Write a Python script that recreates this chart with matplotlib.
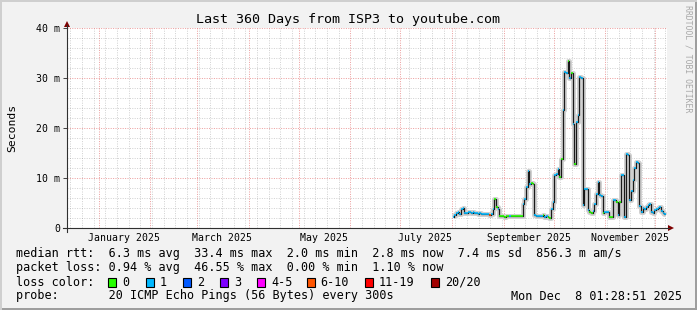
import matplotlib
matplotlib.use("Agg")
import matplotlib.pyplot as plt
import matplotlib.dates as mdates
import pandas as pd
from matplotlib.patches import Rectangle, Polygon
from matplotlib.lines import Line2D
from matplotlib.transforms import blended_transform_factory

# ---------------- data ----------------
title = "Last 360 Days from ISP3 to youtube.com"
range_start = "2024-12-13 01:28:51"
range_end = "2025-12-08 01:28:51"
first_sample = "2025-08-02"

# daily median RTT in milliseconds
median_ms = [
    2.3, 2.7, 3.1, 3.2, 2.9, 3.9, 4.0, 3.1, 3.0, 3.3,
    3.2, 3.0, 3.3, 3.1, 3.0, 2.9, 3.0, 2.8, 2.9, 2.8,
    2.8, 2.8, 2.7, 2.8, 3.9, 5.9, 4.3, 3.8, 2.4, 2.4,
    2.4, 2.3, 2.4, 2.4, 2.5, 2.4, 2.4, 2.5, 2.4, 2.5,
    2.4, 2.4, 4.9, 5.9, 8.3, 11.4, 8.9, 9.0, 8.9, 2.6,
    2.5, 2.5, 2.4, 2.5, 2.6, 2.3, 2.4, 2.2, 2.1, 3.9,
    5.2, 10.6, 10.9, 11.9, 10.3, 13.9, 23.6, 31.3, 31.1, 33.4,
    30.0, 31.0, 20.9, 12.9, 21.3, 22.6, 30.3, 30.1, 4.6, 7.9,
    7.9, 3.6, 3.3, 3.0, 3.5, 4.9, 6.9, 9.3, 6.6, 6.5,
    3.1, 3.2, 3.3, 3.2, 2.2, 2.3, 5.7, 5.7, 5.3, 2.6,
    5.3, 10.6, 10.6, 2.3, 14.9, 14.6, 5.6, 7.5, 9.6, 12.0,
    13.3, 13.1, 4.5, 3.3, 4.0, 3.9, 4.3, 4.7, 4.9, 3.3,
    3.0, 3.6, 3.9, 4.0, 4.3, 3.5, 3.1, 2.8,
]
# loss class index per day (index into loss_labels)
loss_class = [
    1, 1, 1, 1, 1, 1, 1, 1, 1, 1,
    1, 1, 1, 1, 1, 1, 1, 1, 1, 1,
    1, 1, 5, 1, 1, 0, 0, 1, 0, 0,
    0, 0, 0, 0, 1, 0, 0, 0, 0, 0,
    0, 0, 1, 1, 1, 1, 1, 0, 0, 1,
    1, 1, 1, 1, 0, 1, 1, 0, 0, 1,
    1, 1, 1, 1, 0, 0, 1, 1, 1, 0,
    1, 0, 1, 0, 1, 1, 1, 1, 1, 1,
    1, 1, 0, 0, 1, 1, 1, 1, 1, 1,
    0, 1, 1, 1, 0, 0, 1, 1, 0, 1,
    0, 1, 1, 1, 1, 1, 1, 1, 1, 1,
    1, 1, 1, 1, 1, 1, 1, 1, 1, 1,
    1, 1, 1, 1, 1, 1, 1, 1,
]
loss_labels = ["0", "1", "2", "3", "4-5", "6-10", "11-19", "20/20"]
loss_colors = ["#26ff00", "#00b8ff", "#0059ff", "#7e00ff", "#ff00ff",
               "#ff5500", "#ff0000", "#a10000"]

month_label_dates = ["2025-01-16", "2025-03-16", "2025-05-16",
                     "2025-07-16", "2025-09-16", "2025-11-16"]
month_labels = ["January 2025", "March 2025", "May 2025",
                "July 2025", "September 2025", "November 2025"]
y_ticks = [0, 10, 20, 30, 40]
y_ticklabels = ["0", "10 m", "20 m", "30 m", "40 m"]

stats_line1 = "median rtt:  6.3 ms avg  33.4 ms max  2.0 ms min  2.8 ms now  7.4 ms sd  856.3 m am/s"
stats_line2 = "packet loss: 0.94 % avg  46.55 % max  0.00 % min  1.10 % now"
probe_line = "probe:       20 ICMP Echo Pings (56 Bytes) every 300s"
timestamp = "Mon Dec  8 01:28:51 2025"

# ---------------- figure ----------------
W, H = 697, 310
MONO = "DejaVu Sans Mono"
fig = plt.figure(figsize=(W / 100, H / 100), dpi=100)
fig.patch.set_facecolor("#f2f2f2")


def fx(x):
    return x / W


def fy(y):
    return 1 - y / H


ax = fig.add_axes([fx(67), fy(228), 600 / W, 200 / H])
ax.set_facecolor("white")

dates = pd.date_range(first_sample, periods=len(median_ms), freq="D")
half = pd.Timedelta(hours=12)

# smoke-like halo, median line and loss-coloured segments
ax.plot(dates, median_ms, drawstyle="steps-mid", color="#d0d0d0", lw=3.6,
        solid_capstyle="butt", zorder=2)
ax.plot(dates, median_ms, drawstyle="steps-mid", color="#1a1a1a", lw=0.9,
        zorder=3)
ax.hlines(median_ms, dates - half, dates + half,
          colors=[loss_colors[c] for c in loss_class], lw=1.2, zorder=4)

ax.set_xlim(pd.Timestamp(range_start), pd.Timestamp(range_end))
ax.set_ylim(0, 40)

ax.xaxis.set_major_locator(mdates.MonthLocator())
ax.xaxis.set_minor_locator(mdates.WeekdayLocator(byweekday=mdates.SU))
ax.xaxis.set_major_formatter(plt.NullFormatter())
ax.set_yticks(y_ticks)
ax.set_yticklabels(y_ticklabels, family=MONO, fontsize=7.1)
ax.set_yticks(range(0, 41, 2), minor=True)

ax.grid(which="minor", color="#8f8f8f", alpha=0.4, lw=0.72,
        linestyle=(0, (1, 1.4)))
ax.grid(which="major", color="#de5151", alpha=0.55, lw=0.72,
        linestyle=(0, (1, 1.4)))
ax.set_axisbelow(True)

ax.tick_params(axis="x", which="both", length=0)
ax.tick_params(axis="y", which="major", length=2.9, width=0.7,
               color="#404040", pad=1.8)
ax.tick_params(axis="y", which="minor", length=0)
for s in ax.spines.values():
    s.set_visible(False)

# month labels centred mid-month
trans = blended_transform_factory(ax.transData, ax.transAxes)
for d, lab in zip(month_label_dates, month_labels):
    ax.text(pd.Timestamp(d), -0.05, lab, transform=trans, ha="center",
            va="center", family=MONO, fontsize=7.1, clip_on=False)

# axes lines and arrows
axis_col = "#303030"
arrow_col = "#7f0000"
fig.add_artist(Line2D([fx(63), fx(669)], [fy(228), fy(228)],
                      color=axis_col, lw=0.8))
fig.add_artist(Line2D([fx(67), fx(67)], [fy(232), fy(25)],
                      color=axis_col, lw=0.8))
fig.add_artist(Polygon([(fx(668), fy(225)), (fx(674), fy(228)),
                        (fx(668), fy(231))], closed=True,
                       color=arrow_col, lw=0))
fig.add_artist(Polygon([(fx(64), fy(27)), (fx(67), fy(21)),
                        (fx(70), fy(27))], closed=True,
                       color=arrow_col, lw=0))

# title, y label, watermark
fig.text(fx(348.5), fy(20), title, ha="center", va="center",
         family=MONO, fontsize=9.6, color="black")
fig.text(fx(12), fy(128), "Seconds", rotation=90, ha="center", va="center",
         family=MONO, fontsize=8.2)
fig.text(fx(688), fy(59), "RRDTOOL / TOBI OETIKER", rotation=270,
         ha="center", va="center", family=MONO, fontsize=5.9,
         color="#a8a8a8")

# legend text
fig.text(fx(16), fy(257.5), stats_line1, ha="left", va="baseline",
         family=MONO, fontsize=8.5)
fig.text(fx(16), fy(271.5), stats_line2, ha="left", va="baseline",
         family=MONO, fontsize=8.5)
fig.text(fx(16), fy(285.5), "loss color:", ha="left", va="baseline",
         family=MONO, fontsize=8.5)
box_x = [108.3, 145.7, 182.7, 220.0, 257.3, 306.7, 365.0, 430.7]
for bx, lab, col in zip(box_x, loss_labels, loss_colors):
    fig.add_artist(Rectangle((fx(bx), fy(286.5)), 8 / W, 8.5 / H,
                             facecolor=col, edgecolor="black", lw=0.8))
    fig.text(fx(bx + 14), fy(285.5), lab, ha="left", va="baseline",
             family=MONO, fontsize=8.5)
fig.text(fx(16), fy(299.5), probe_line, ha="left", va="baseline",
         family=MONO, fontsize=8.5)
fig.text(fx(682), fy(299.5), timestamp, ha="right", va="baseline",
         family=MONO, fontsize=8.5)

# outer shaded frame
fig.add_artist(Rectangle((0, 0), 1, 2 / H, facecolor="#9e9e9e", lw=0))
fig.add_artist(Rectangle((1 - 2 / W, 0), 2 / W, 1, facecolor="#9e9e9e", lw=0))
fig.add_artist(Rectangle((0, 1 - 2 / H), 1, 2 / H, facecolor="#cfcfcf", lw=0))
fig.add_artist(Rectangle((0, 0), 2 / W, 1, facecolor="#cfcfcf", lw=0))

fig.savefig("out.png", dpi=100, facecolor=fig.get_facecolor())
